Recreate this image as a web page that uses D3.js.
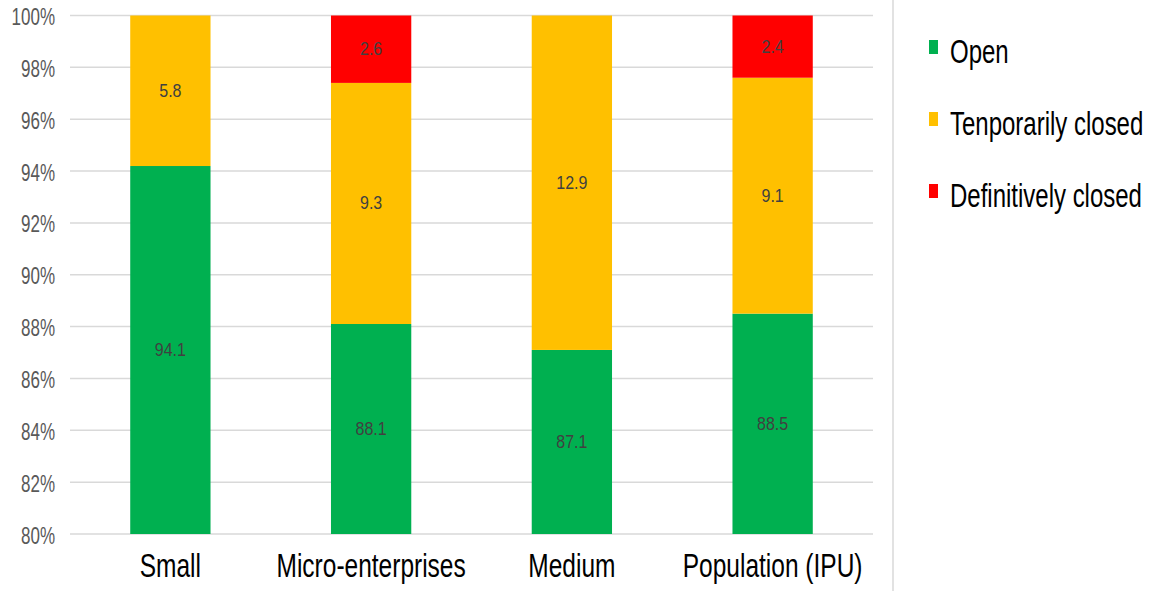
<!DOCTYPE html>
<html>
<head>
<meta charset="utf-8">
<script src="https://cdn.jsdelivr.net/npm/d3@7"></script>
<style>
  html, body { margin: 0; padding: 0; background: #fff; }
  svg { display: block; font-family: "Liberation Sans", Arial, sans-serif; }
</style>
</head>
<body>
<div id="chart"></div>
<script>
// chart data
const categories = ["Small", "Micro-enterprises", "Medium", "Population (IPU)"];
const seriesKeys = ["open", "temp", "def"];
const seriesNames = ["Open", "Tenporarily closed", "Definitively closed"];
const seriesColors = ["#00B050", "#FFC000", "#FF0000"];
const openValues = [94.1, 88.1, 87.1, 88.5];
const tempValues = [5.8, 9.3, 12.9, 9.1];
const defValues = [0, 2.6, 0, 2.4];
const yTicks = [80, 82, 84, 86, 88, 90, 92, 94, 96, 98, 100];

const width = 1165, height = 591;
const margin = { left: 70, right: 292, top: 15.5, bottom: 57 };
// the source image is stretched vertically, so text is too
const stretch = 1.37;

const rows = categories.map((c, i) => ({
  cat: c, open: openValues[i], temp: tempValues[i], def: defValues[i]
}));

const svg = d3.select("#chart").append("svg")
  .attr("width", width)
  .attr("height", height);

const x = d3.scaleBand()
  .domain(categories)
  .range([margin.left, width - margin.right])
  .paddingInner(0.6)
  .paddingOuter(0.3);

// 100% stacked: shares 0..1 shown as percent
const y = d3.scaleLinear()
  .domain([0.8, 1])
  .range([height - margin.bottom, margin.top])
  .clamp(true);

function stretchedText(sel, tx, ty, k) {
  return sel.attr("transform", `translate(${tx},${ty}) scale(1,${k})`);
}

// gridlines
svg.append("g").selectAll("line")
  .data(yTicks)
  .enter().append("line")
  .attr("x1", margin.left)
  .attr("x2", width - margin.right)
  .attr("y1", d => y(d / 100))
  .attr("y2", d => y(d / 100))
  .attr("stroke", "#D9D9D9")
  .attr("stroke-width", 1.5);

// y tick labels
svg.append("g").selectAll("text")
  .data(yTicks)
  .enter().append("text")
  .each(function (d) { stretchedText(d3.select(this), 55, y(d / 100) + 9.5, stretch); })
  .attr("text-anchor", "end")
  .attr("font-size", "17px")
  .attr("fill", "#595959")
  .text(d => d + "%");

// stacked bars
const stacked = d3.stack().keys(seriesKeys).offset(d3.stackOffsetExpand)(rows);

const layers = svg.append("g").selectAll("g")
  .data(stacked)
  .enter().append("g")
  .attr("fill", (d, i) => seriesColors[i]);

layers.selectAll("rect")
  .data(d => d.filter(s => s[1] - s[0] > 0))
  .enter().append("rect")
  .attr("x", d => x(d.data.cat))
  .attr("width", x.bandwidth())
  .attr("y", d => y(d[1]))
  .attr("height", d => y(d[0]) - y(d[1]));

// value labels
layers.selectAll("text")
  .data((d, i) => d.filter(s => s[1] - s[0] > 0).map(s => ({ s: s, key: seriesKeys[i] })))
  .enter().append("text")
  .each(function (d) {
    const mid = (y(Math.max(d.s[0], 0.8)) + y(d.s[1])) / 2;
    stretchedText(d3.select(this), x(d.s.data.cat) + x.bandwidth() / 2, mid + 6, 1.2);
  })
  .attr("text-anchor", "middle")
  .attr("font-size", "16px")
  .attr("fill", "#404040")
  .text(d => d.s.data[d.key]);

// category labels
svg.append("g").selectAll("text")
  .data(categories)
  .enter().append("text")
  .each(function (d) { stretchedText(d3.select(this), x(d) + x.bandwidth() / 2, 577, stretch); })
  .attr("text-anchor", "middle")
  .attr("font-size", "24.5px")
  .attr("fill", "#000")
  .text(d => d);

// separator
svg.append("line")
  .attr("x1", 893).attr("x2", 893)
  .attr("y1", 0).attr("y2", height)
  .attr("stroke", "#D9D9D9")
  .attr("stroke-width", 1.5);

// legend
const legend = svg.append("g").selectAll("g")
  .data(seriesNames)
  .enter().append("g")
  .attr("transform", (d, i) => `translate(929,${40 + i * 72})`);

legend.append("rect")
  .attr("width", 9)
  .attr("height", 14)
  .attr("fill", (d, i) => seriesColors[i]);

legend.append("text")
  .each(function () { stretchedText(d3.select(this), 21, 23, stretch); })
  .attr("font-size", "24px")
  .attr("fill", "#000")
  .text(d => d);
</script>
</body>
</html>
